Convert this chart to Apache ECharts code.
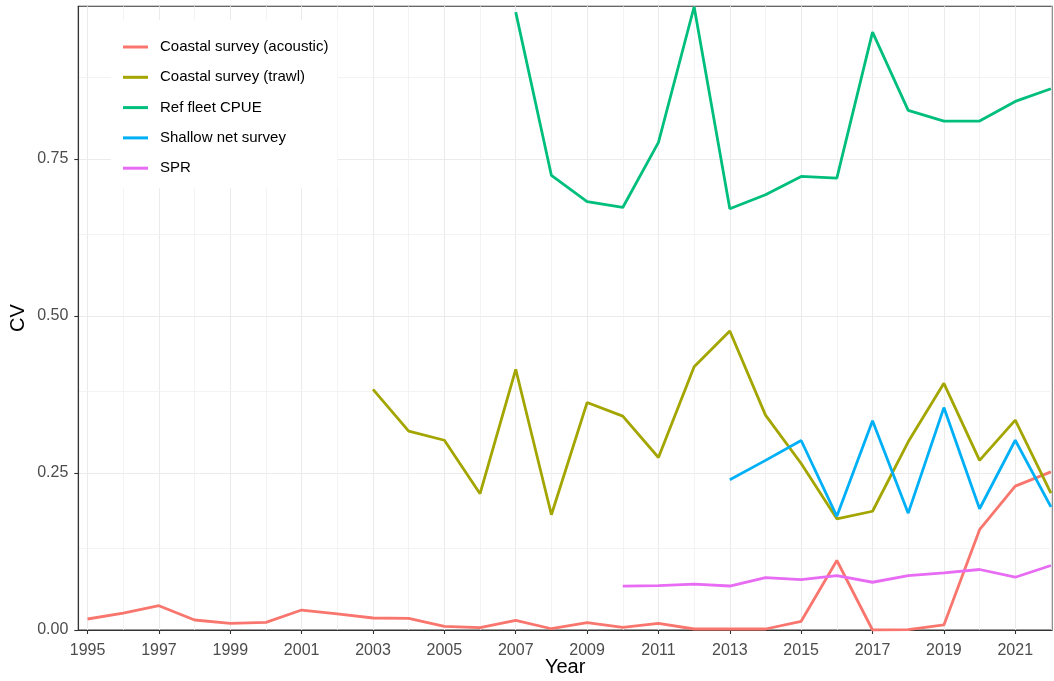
<!DOCTYPE html>
<html>
<head>
<meta charset="utf-8">
<script src="https://cdn.jsdelivr.net/npm/echarts@6/dist/echarts.min.js"></script>
<style>
html,body{margin:0;padding:0;background:#fff;}
#chart{width:1054px;height:681px;}
</style>
</head>
<body>
<div id="chart"></div>
<script>
// ---- data ----
const seriesNames = ["Coastal survey (acoustic)", "Coastal survey (trawl)", "Ref fleet CPUE", "Shallow net survey", "SPR"];

const yearsAcoustic = [1995,1996,1997,1998,1999,2000,2001,2002,2003,2004,2005,2006,2007,2008,2009,2010,2011,2012,2013,2014,2015,2016,2017,2018,2019,2020,2021,2022];
const acoustic = [0.0175,0.027,0.0387,0.0159,0.0106,0.0122,0.0318,0.0255,0.0191,0.0186,0.0058,0.0037,0.0154,0.002,0.0117,0.0042,0.0106,0.0016,0.0016,0.0016,0.0138,0.1106,0.0,0.0005,0.008,0.1596,0.229,0.2516];

const yearsTrawl = [2003,2004,2005,2006,2007,2008,2009,2010,2011,2012,2013,2014,2015,2016,2017,2018,2019,2020,2021,2022];
const trawl = [0.383,0.3165,0.302,0.217,0.415,0.1835,0.362,0.3404,0.2745,0.419,0.476,0.342,0.265,0.177,0.189,0.2995,0.3926,0.270,0.334,0.218];

const yearsCPUE = [2007,2008,2009,2010,2011,2012,2013,2014,2015,2016,2017,2018,2019,2020,2021,2022];
const cpue = [0.9835,0.7235,0.682,0.6725,0.776,0.992,0.6704,0.6927,0.7219,0.7192,0.9517,0.827,0.81,0.81,0.8413,0.8615];

const yearsShallow = [2013,2014,2015,2016,2017,2018,2019,2020,2021,2022];
const shallow = [0.239,0.270,0.3016,0.181,0.333,0.186,0.354,0.193,0.302,0.196];

const yearsSPR = [2010,2011,2012,2013,2014,2015,2016,2017,2018,2019,2020,2021,2022];
const spr = [0.0697,0.0707,0.0729,0.070,0.0835,0.0803,0.0867,0.076,0.0867,0.091,0.0963,0.084,0.1027];

const colors = ["#F8766D", "#A3A500", "#00BF7D", "#00B0F6", "#E76BF3"];

const xLabelYears = [1995,1997,1999,2001,2003,2005,2007,2009,2011,2013,2015,2017,2019,2021];
const xMinorYears = [1996,1998,2000,2002,2004,2006,2008,2010,2012,2014,2016,2018,2020,2022];
const yTicks = [0, 0.25, 0.5, 0.75];
const yMinor = [0.125, 0.375, 0.625, 0.875];

const xMin = 1994.74, xMax = 2022.03;
const yMin = 0, yMax = 0.9927;

// ---- build ----
const pairs = (xs, ys) => xs.map((x, i) => [x, ys[i]]);
const dataSets = [
  pairs(yearsAcoustic, acoustic),
  pairs(yearsTrawl, trawl),
  pairs(yearsCPUE, cpue),
  pairs(yearsShallow, shallow),
  pairs(yearsSPR, spr)
];

const gridColor = "#EBEBEB";
const minorColor = "#F0F0F0";

const gridLines = [];
xLabelYears.forEach(v => gridLines.push({xAxis: v, lineStyle: {color: gridColor, width: 1.1, type: 'solid'}}));
xMinorYears.forEach(v => gridLines.push({xAxis: v, lineStyle: {color: minorColor, width: 0.8, type: 'solid'}}));
yMinor.forEach(v => gridLines.push({yAxis: v, lineStyle: {color: minorColor, width: 0.8, type: 'solid'}}));

const series = [{
  name: '__grid',
  type: 'line',
  data: [],
  z: 0,
  silent: true,
  markLine: {
    z: 0,
    silent: true,
    symbol: ['none', 'none'],
    label: {show: false},
    emphasis: {disabled: true},
    animation: false,
    data: gridLines
  }
}];
seriesNames.forEach((n, i) => {
  series.push({
    name: n,
    type: 'line',
    data: dataSets[i],
    showSymbol: false,
    symbol: 'none',
    z: 3,
    lineStyle: {color: colors[i], width: 2.8},
    itemStyle: {color: colors[i]},
    animation: false
  });
});

const chart = echarts.init(document.getElementById('chart'), null, {renderer: 'canvas'});
chart.setOption({
  animation: false,
  backgroundColor: '#ffffff',
  textStyle: {fontFamily: 'Liberation Sans, Arial, sans-serif'},
  grid: {
    left: 78.3, right: 2, top: 6.3, bottom: 51,
    containLabel: false,
    outerBoundsMode: 'none',
    show: true, borderColor: '#333333', borderWidth: 1.1, backgroundColor: 'transparent'
  },
  legend: {
    data: seriesNames,
    orient: 'vertical',
    left: 111, top: 20,
    z: 6,
    backgroundColor: '#ffffff',
    padding: [18, 9, 11, 12],
    icon: 'rect',
    itemWidth: 25, itemHeight: 3,
    itemGap: 12.3,
    textStyle: {fontSize: 15, color: '#000000', lineHeight: 18, padding: [0, 0, 0, 7], fontFamily: 'Liberation Sans, Arial, sans-serif'}
  },
  xAxis: {
    type: 'value',
    min: xMin, max: xMax,
    name: 'Year',
    nameLocation: 'middle',
    nameMoveOverlap: false,
    nameGap: 27,
    nameTextStyle: {fontSize: 20, color: '#000000'},
    axisLine: {show: true, lineStyle: {color: '#333333', width: 1.1}},
    axisTick: {show: true, length: 4, lineStyle: {color: '#333333', width: 1.1}, customValues: xLabelYears},
    axisLabel: {fontSize: 16, color: '#4D4D4D', margin: 13, customValues: xLabelYears, formatter: v => String(v)},
    splitLine: {show: false}
  },
  yAxis: {
    type: 'value',
    min: yMin, max: yMax,
    interval: 0.25,
    name: 'CV',
    nameLocation: 'middle',
    nameMoveOverlap: false,
    nameGap: 50,
    nameTextStyle: {fontSize: 20, color: '#000000'},
    axisLine: {show: true, lineStyle: {color: '#333333', width: 1.1}},
    axisTick: {show: true, length: 4, lineStyle: {color: '#333333', width: 1.1}, customValues: yTicks},
    axisLabel: {fontSize: 16, color: '#4D4D4D', margin: 10, customValues: yTicks, formatter: v => v.toFixed(2)},
    splitLine: {show: true, lineStyle: {color: gridColor, width: 1.1}}
  },
  series: series
});
</script>
</body>
</html>
